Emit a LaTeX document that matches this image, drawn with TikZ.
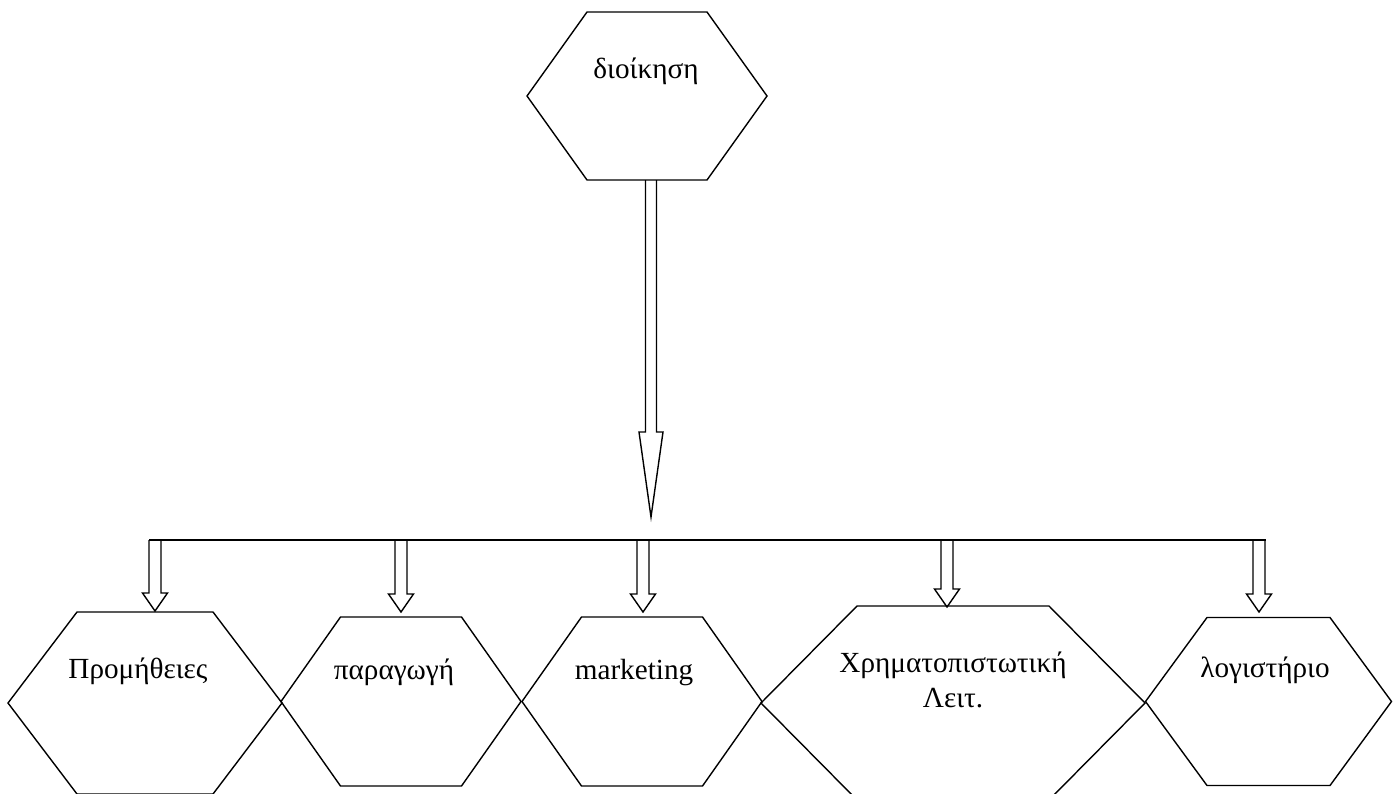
\documentclass[tikz,border=0pt]{standalone}
\usepackage{fontspec}
\setmainfont{Liberation Serif}
\usetikzlibrary{calc}

\tikzset{
  hexline/.style={line width=0.7pt, line join=miter},
  lbl/.style={font=\fontsize{14.6}{17.5}\selectfont, inner sep=0pt, align=center},
  hollow/.style n args={3}{line width=0.7pt, line join=miter,
    to path={let \p1=(\tikztostart), \p2=(\tikztotarget) in
      (\x1-#1,\y1) -- (\x1-#1,\y2+#3) -- (\x1-#2,\y2+#3) -- (\x1,\y2)
      -- (\x1+#2,\y2+#3) -- (\x1+#1,\y2+#3) -- (\x1+#1,\y1)}},
}

% centre x, centre y, half width, half height, half top edge
\newcommand{\hexagon}[5]{%
  \draw[hexline] ({#1-#3},#2) -- ({#1-#5},{#2-#4}) -- ({#1+#5},{#2-#4})
    -- ({#1+#3},#2) -- ({#1+#5},{#2+#4}) -- ({#1-#5},{#2+#4}) -- cycle;
}

\begin{document}
\begin{tikzpicture}[x=0.5pt,y=-0.5pt]
  \useasboundingbox (0,0) rectangle (1396,793);

  % hexagons
  \hexagon{647}{96}{120}{84}{60}
  \hexagon{145}{703}{137}{91}{68}
  \hexagon{401}{701.5}{120}{84.5}{60.5}
  \hexagon{642}{701.5}{120}{84.5}{60.5}
  \hexagon{953}{703}{192}{97}{96}
  \hexagon{1268.5}{701.5}{123}{84}{61.5}

  % texts
  \node[lbl,anchor=base] (dioikisi) at (646,78) {διοίκηση};
  \node[lbl,anchor=base] (promitheies) at (138,678) {Προμήθειες};
  \node[lbl,anchor=base] (paragogi) at (394,679) {παραγωγή};
  \node[lbl,anchor=base] (marketing) at (634,679) {marketing};
  \node[lbl,anchor=base] (xrimat) at (953,707) {Χρηματοπιστωτική\\Λειτ.};
  \node[lbl,anchor=base] (logistirio) at (1265,677) {λογιστήριο};

  % bus line and arrows
  \coordinate (top out) at (651,180);
  \coordinate (bus in) at (651,517);
  \coordinate (bus left) at (149,540);
  \coordinate (bus right) at (1266,540);
  \draw[hexline] (bus left) -- (bus right);
  \draw[hollow={2.75pt}{6pt}{42.5pt}] (top out) to (bus in);

  \foreach \name/\x/\tip in {promitheies/155/611, paragogi/401/612,
      marketing/643/612, xrimat/947/607, logistirio/1259/612}{
    \coordinate (\name in) at (\x,\tip);
    \draw[hollow={3pt}{6.25pt}{9pt}] (bus left -| \name in) to (\name in);
  }
\end{tikzpicture}
\end{document}
